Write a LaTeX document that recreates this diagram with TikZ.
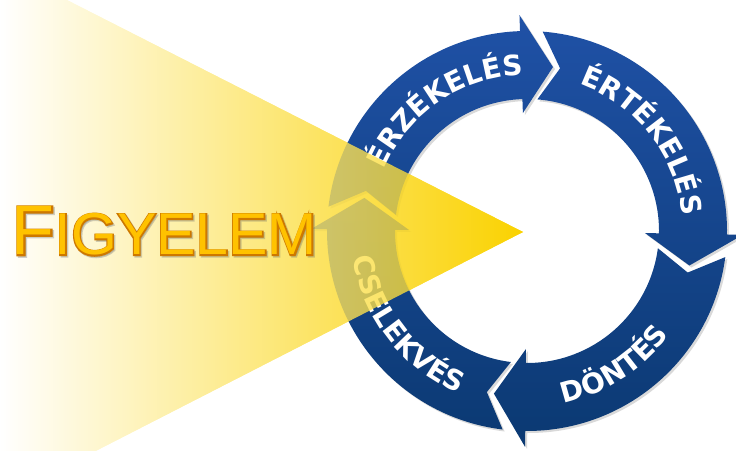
\documentclass[tikz,border=0pt]{standalone}
\usepackage{fontspec}
\setmainfont{Liberation Sans}
\newfontfamily\ringfont{DejaVu Sans}
\newfontfamily\edgefont[FakeBold=4]{Liberation Sans}
\usepackage{xcolor}
\usetikzlibrary{decorations.text}

\definecolor{ringtop}{RGB}{32,82,168}
\definecolor{ringbot}{RGB}{10,56,112}
\definecolor{beam}{RGB}{250,210,0}
\definecolor{figfill}{RGB}{255,194,0}
\definecolor{figedge}{RGB}{205,120,0}

\newcommand\Ri{132}
\newcommand\Ro{200}
\newcommand\Rm{166}
\newcommand\ringseg[2]{({#1+2}:\Ro) arc[start angle={#1+2}, end angle={#2+8.5}, radius=\Ro]
  -- ({#2+8.5}:{\Ro+16}) -- ({#2-2.5}:\Rm) -- ({#2+8.5}:{\Ri-14}) -- ({#2+8.5}:\Ri)
  arc[start angle={#2+8.5}, end angle={#1+2}, radius=\Ri] -- ({#1-5}:\Rm) -- cycle}
\newcommand\ringlabel{\ringfont\bfseries\fontsize{28}{28}\selectfont\color{white}}
\newcommand\figword{\fontsize{70}{70}\selectfont F\fontsize{59}{59}\selectfont IGYELEM}

\begin{document}
\begin{tikzpicture}[x=1pt, y=1pt,
  seglabel/.style={decorate, decoration={text along path, text align=center, text={#1}}},
  figtext/.style={anchor=base west, inner sep=0pt, outer sep=0pt}
]
\useasboundingbox (0,0) rectangle (736,450);
\clip (0,0) rectangle (736,450);

\coordinate (hub) at (527,219);
\coordinate (apex) at (523,218);
\coordinate (beamtop) at (0,484);
\coordinate (beambot) at (0,-50);

\shade[left color=white, middle color=beam!42, right color=beam] (beamtop) -- (apex) -- (beambot) -- cycle;

\begin{scope}[shift={(hub)}]
  \fill[black, opacity=0.15, shift={(2,-2)}]
    \foreach \a/\b in {171/83.5, 83.5/-9.5, -9.5/-99, 261/171} {\ringseg{\a}{\b}};
  \begin{scope}
    \clip \foreach \a/\b in {171/83.5, 83.5/-9.5, -9.5/-99, 261/171} {\ringseg{\a}{\b}};
    \shade[top color=ringtop, bottom color=ringbot] (-230,-230) rectangle (230,230);
  \end{scope}
  \path[seglabel={|\ringlabel|ÉRZÉKELÉS}] (184:156) arc[start angle=184, end angle=64, radius=156];
  \path[seglabel={|\ringlabel|ÉRTÉKELÉS}] (98:156) arc[start angle=98, end angle=-22, radius=156];
  \path[seglabel={|\ringlabel|DÖNTÉS}] (-117:176) arc[start angle=-117, end angle=3, radius=176];
  \path[seglabel={|\ringlabel|CSELEKVÉS}] (158:176) arc[start angle=158, end angle=278, radius=176];
\end{scope}

\shade[left color=white, middle color=beam!42, right color=beam, fill opacity=0.8] (beamtop) -- (apex) -- (beambot) -- cycle;

\node[figtext, text=black!60, opacity=0.3, font=\edgefont] (figshadow) at (13.5,193.5) {\figword};
\node[figtext, text=figedge, font=\edgefont] (figoutline) at (12,195) {\figword};
\node[figtext, text=figfill] (figyelem) at (12,195) {\figword};
\end{tikzpicture}
\end{document}
